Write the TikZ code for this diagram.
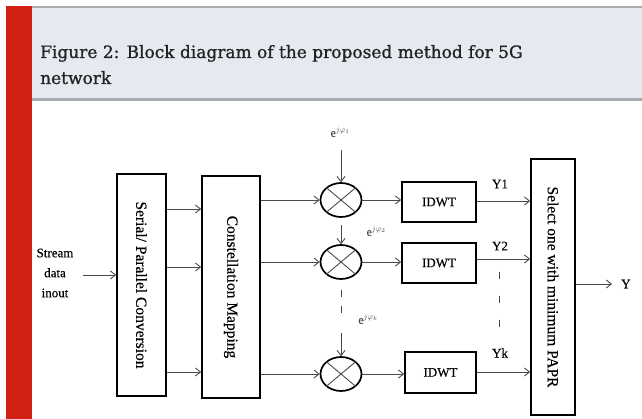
\documentclass[tikz,border=0pt]{standalone}
\usepackage{fontspec}
\setmainfont[FakeBold=0.4]{Liberation Serif}
\newfontfamily\titlefont[FakeBold=1]{DejaVu Serif}
\usetikzlibrary{arrows.meta,shapes.geometric}
\definecolor{hdrbg}{HTML}{E4EAF0}
\definecolor{hdrline}{HTML}{A9ABAD}
\definecolor{barred}{HTML}{D22015}
\definecolor{wire}{HTML}{4A4A4A}
\definecolor{ttl}{HTML}{232323}
\newcommand{\phase}[1]{e\raisebox{4.5pt}{\fontsize{8.5}{8.5}\selectfont$j\varphi_{#1}$}}
\tikzset{
  blk/.style={draw=black, line width=1.7pt, inner sep=0pt},
  mixer/.style={draw=black, line width=1.7pt, ellipse, minimum width=41pt, minimum height=34pt, inner sep=0pt},
  arr/.style={draw=wire, line width=0.9pt, -{Straight Barb[length=5pt,width=8pt]}},
  ln/.style={draw=wire, line width=0.9pt},
  rtxt/.style={font=\fontsize{15.5}{16}\selectfont, rotate=-90},
  htxt/.style={font=\fontsize{13}{13}\selectfont},
  ph/.style={font=\fontsize{12}{12}\selectfont, text=wire, inner sep=0pt},
}
\begin{document}
\begin{tikzpicture}[x=1pt,y=-1pt]
\useasboundingbox (0,0) rectangle (642,419);
\fill[white] (0,0) rectangle (642,419);
% header
\fill[hdrbg] (32,7) rectangle (642,100);
\fill[hdrline] (6,6) rectangle (642,8.5);
\fill[hdrline] (32,98.5) rectangle (642,101.5);
\fill[barred] (6,6) rectangle (32,419);
\node[anchor=base west, inner sep=0pt, text=ttl, font=\titlefont\fontsize{17}{17}\selectfont] (t1) at (40,58) {Figure 2: Block diagram of the proposed method for 5G};
\node[anchor=base west, inner sep=0pt, text=ttl, font=\titlefont\fontsize{17}{17}\selectfont] (t2) at (40,84) {network};
% blocks
\node[blk, minimum width=49pt, minimum height=222pt] (sp) at (141.5,285) {};
\node[rtxt] (spt) at (sp.center) {Serial/ Parallel Conversion};
\node[blk, minimum width=58pt, minimum height=222pt] (cm) at (231,287) {};
\node[rtxt] (cmt) at (cm.center) {Constellation Mapping};
\node[blk, minimum width=44pt, minimum height=256pt] (sel) at (553,287) {};
\node[rtxt] (selt) at (sel.center) {Select one with minimum PAPR};
% mixers
\node[mixer] (c1) at (341,200) {};
\node[mixer] (c2) at (341,262) {};
\node[mixer] (c3) at (341,374) {};
\foreach \c in {c1,c2,c3}{
  \draw[ln] (\c.140) -- (\c.-40);
  \draw[ln] (\c.40) -- (\c.-140);
}
% IDWT
\node[blk, minimum width=74pt, minimum height=40pt, htxt] (i1) at (439,202) {IDWT};
\node[blk, minimum width=74pt, minimum height=40pt, htxt] (i2) at (439,263) {IDWT};
\node[blk, minimum width=71pt, minimum height=41pt, htxt] (i3) at (440.5,372.5) {IDWT};
% input
\node[htxt, align=center, inner sep=0pt] (inl) at (55,273) {Stream\\[7pt]data\\[7pt]inout};
\coordinate (inS) at (83,275);
\draw[arr] (inS) -- (inS -| sp.west);
% sp -> cm
\foreach \yy in {209,267,372}{
  \draw[arr] (sp.east |- 0,\yy) -- (cm.west |- 0,\yy);
}
% cm -> mixers
\draw[arr] (cm.east |- c1.west) -- (c1.west);
\draw[arr] (cm.east |- c2.west) -- (c2.west);
\draw[arr] (cm.east |- c3.west) -- (c3.west);
% mixers -> IDWT
\draw[arr] (c1.east) -- (c1.east -| i1.west);
\draw[arr] (c2.east) -- (c2.east -| i2.west);
\draw[arr] (c3.east) -- (c3.east -| i3.west);
% IDWT -> selector
\draw[arr] (i1.east |- 0,201) -- (sel.west |- 0,201);
\draw[arr] (i2.east |- 0,259) -- (sel.west |- 0,259);
\draw[arr] (i3.east |- 0,372) -- (sel.west |- 0,372);
% output
\coordinate (outE) at (612,284);
\draw[arr] (sel.east |- outE) -- (outE);
\node[htxt, anchor=west, inner sep=0pt] (yout) at (621,284) {Y};
% phase labels & vertical arrows
\node[ph] (p1) at (340,132) {\phase{1}};
\node[ph] (p2) at (376,231) {\phase{2}};
\node[ph] (pk) at (368,319) {\phase{k}};
\coordinate (a1) at (341,150);
\draw[arr] (a1) -- (c1.north);
\coordinate (a2) at (341,225);
\draw[arr] (a2) -- (c2.north);
\coordinate (d1) at (341,290);
\coordinate (d2) at (341,313);
\draw[ln, dash pattern=on 7pt off 9pt] (d1) -- (d2);
\coordinate (a3) at (341,333);
\draw[arr] (a3) -- (c3.north);
% output labels
\node[htxt] (y1) at (500,184) {Y1};
\node[htxt] (y2) at (500,246) {Y2};
\node[htxt] (yk) at (500,353) {Yk};
\coordinate (e1) at (499,272);
\coordinate (e2) at (499,328);
\draw[ln, dash pattern=on 7pt off 17pt] (e1) -- (e2);
\end{tikzpicture}
\end{document}
